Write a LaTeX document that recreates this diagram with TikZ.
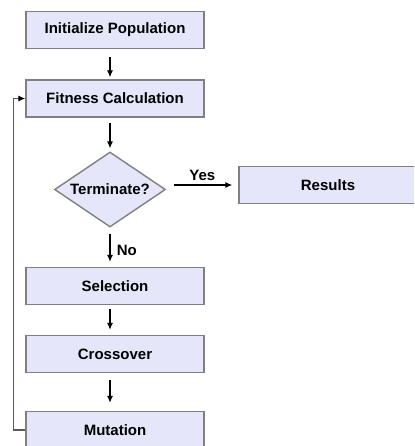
\documentclass[tikz,border=0pt]{standalone}
\usepackage{fontspec}
\setmainfont{Liberation Sans}
\usetikzlibrary{shapes.geometric,arrows.meta}
\definecolor{boxfill}{RGB}{230,230,250}
\definecolor{boxline}{RGB}{128,128,128}
\definecolor{loopline}{RGB}{90,90,90}

\begin{document}
\begin{tikzpicture}[x=1pt,y=-1pt,
  font=\fontsize{15}{18}\selectfont\bfseries,
  box/.style={draw=boxline,fill=boxfill,line width=1.4pt,minimum width=178pt,minimum height=37pt,inner sep=0pt},
  test/.style={diamond,draw=boxline,fill=boxfill,line width=1.4pt,minimum width=111pt,minimum height=75pt,aspect=1.48,inner sep=0pt},
  flow/.style={-{Latex[length=7pt,width=6pt,color=black]},line width=1.1pt}]
  \useasboundingbox (0,0) rectangle (414,446);
  \clip (0,0) rectangle (414,446);

  \node [box] (init) at (115, 30) {Initialize Population};
  \node [box] (fit) at (115, 98.5) {Fitness Calculation};
  \node [test] (term) at (110, 189.5) {Terminate?};
  \node [box] (res) at (328, 185) {Results};
  \node [box] (sel) at (115, 286) {Selection};
  \node [box] (cross) at (115, 354) {Crossover};
  \node [box] (mut) at (115, 430) {Mutation};

  \draw [flow, shorten <=8pt, shorten >=2pt] (init.south -| term) -- (fit.north -| term);
  \draw [flow, shorten <=5pt, shorten >=3pt] (fit.south -| term) -- (term.north);
  \draw [flow, shorten <=8pt, shorten >=6pt] (term.east |- res.west) -- (res.west)
    node [midway, above] {Yes};
  \draw [flow, shorten <=6pt, shorten >=5pt] (term.south) -- (sel.north -| term)
    node [midway, right, xshift=3pt, yshift=-3pt] {No};
  \draw [flow, shorten <=4pt, shorten >=5pt] (sel.south -| term) -- (cross.north -| term);
  \draw [flow, shorten <=7pt, shorten >=8pt] (cross.south -| term) -- (mut.north -| term);

  % back to fitness
  \draw [flow, draw=loopline] (mut.west) -- ++(-12, 0) |- (fit.west);

\end{tikzpicture}
\end{document}
